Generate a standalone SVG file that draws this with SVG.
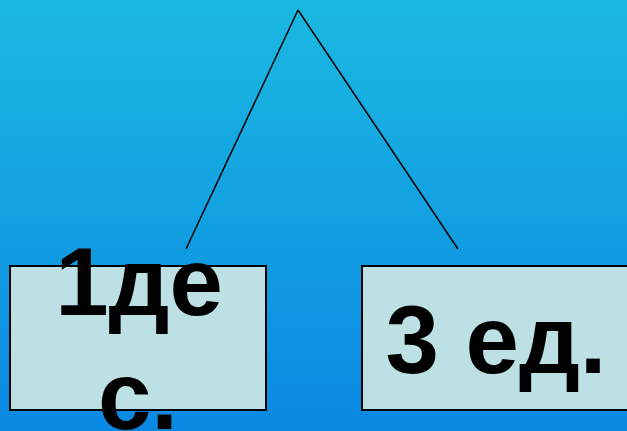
<svg xmlns="http://www.w3.org/2000/svg" width="627" height="431" viewBox="0 0 627 431">
<defs>
<linearGradient id="bg" x1="0" y1="0" x2="0" y2="1">
<stop offset="0" stop-color="#1bb9e1"/>
<stop offset="1" stop-color="#0a88e2"/>
</linearGradient>
<style>
.box{fill:#bce0e3;stroke:#000;stroke-width:2}
.lbl{font-family:"Liberation Sans",Arial,sans-serif;font-weight:bold;font-size:96px;fill:#000;text-anchor:middle}
.conn{stroke:#000;stroke-width:1.5;fill:none}
</style>
</defs>
<rect x="0" y="0" width="627" height="431" fill="url(#bg)"/>
<g id="connectors">
<line class="conn" x1="298" y1="10" x2="186" y2="249"/>
<line class="conn" x1="298" y1="10" x2="458" y2="249"/>
</g>
<g id="node-left">
<rect class="box" x="10" y="266" width="256" height="144"/>
<text class="lbl" x="139" y="315">1де</text>
<text class="lbl" x="138" y="429">с.</text>
</g>
<g id="node-right">
<rect class="box" x="362" y="266" width="270" height="144"/>
<text class="lbl" x="496" y="373">3 ед.</text>
</g>
</svg>
